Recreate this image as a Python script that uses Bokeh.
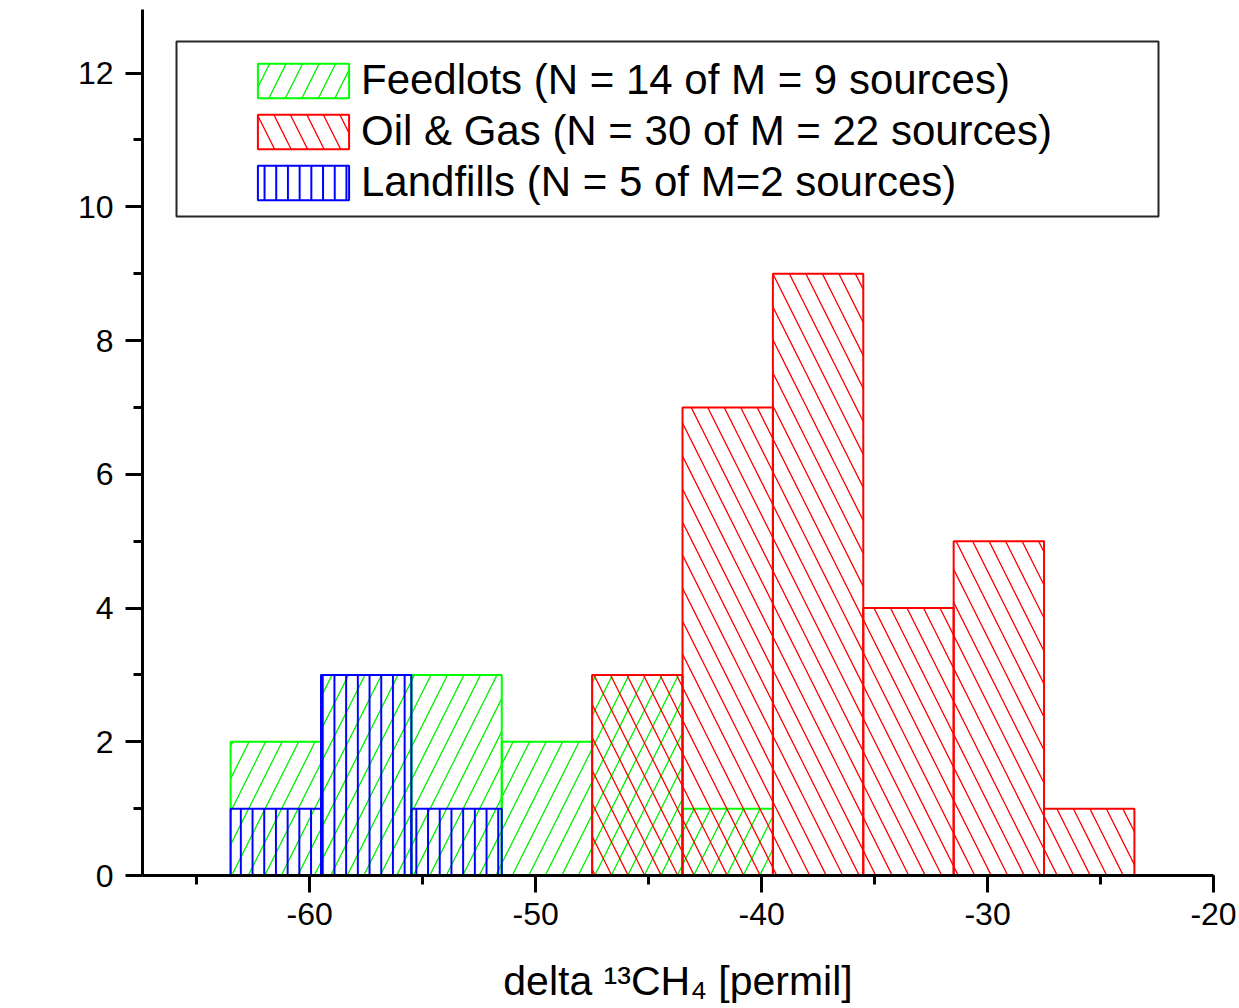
import math
from bokeh.plotting import figure
from bokeh.models import (ColumnDataSource, Legend, LegendItem, BoxAnnotation,
                          SingleIntervalTicker, Range1d, Label)
from bokeh.embed import file_html
from bokeh.resources import INLINE

# ---- data ----
bin_left = [-63.5, -59.5, -55.5, -51.5, -47.5, -43.5, -39.5, -35.5, -31.5, -27.5]
bin_right = [-59.5, -55.5, -51.5, -47.5, -43.5, -39.5, -35.5, -31.5, -27.5, -23.5]
feedlots = [2, 3, 3, 2, 3, 1, 0, 0, 0, 0]
oil_gas = [0, 0, 0, 0, 3, 7, 9, 4, 5, 1]
landfills = [1, 3, 1, 0, 0, 0, 0, 0, 0, 0]
labels = ["Feedlots (N = 14 of M = 9 sources)",
          "Oil & Gas (N = 30 of M = 22 sources)",
          "Landfills (N = 5 of M=2 sources)"]
x_ticks = [-60, -50, -40, -30, -20]
x_tick_labels = ["-60", "-50", "-40", "-30", "-20"]
y_ticks = [0, 2, 4, 6, 8, 10, 12]
y_tick_labels = ["0", "2", "4", "6", "8", "10", "12"]
x_title = "delta \u00b9\u00b3CH\u2084 [permil]"
y_title = "bin count"

FONT = "Liberation Sans"


def src(counts):
    l, r, t = [], [], []
    for a, b, c in zip(bin_left, bin_right, counts):
        if c > 0:
            l.append(a); r.append(b); t.append(c)
    return ColumnDataSource(dict(left=l, right=r, top=t, bottom=[0] * len(t)))


p = figure(width=1239, height=1008, output_backend="svg", toolbar_location=None,
           x_range=Range1d(-67.4, -20), y_range=Range1d(0, 12.95),
           min_border_left=142, min_border_right=26, min_border_top=9, min_border_bottom=133)
p.outline_line_color = None
p.xgrid.visible = False
p.ygrid.visible = False
p.background_fill_color = "white"
p.border_fill_color = "white"

r_g = p.quad(left="left", right="right", top="top", bottom="bottom", source=src(feedlots),
             fill_color=None, line_color="#00ff00", line_width=2,
             hatch_pattern="right_diagonal_line", hatch_color="#00f000",
             hatch_scale=33, hatch_weight=1.3)
r_r = p.quad(left="left", right="right", top="top", bottom="bottom", source=src(oil_gas),
             fill_color=None, line_color="#ff0000", line_width=2,
             hatch_pattern="left_diagonal_line", hatch_color="#ff0000",
             hatch_scale=33, hatch_weight=1.3)
r_b = p.quad(left="left", right="right", top="top", bottom="bottom", source=src(landfills),
             fill_color=None, line_color="#0000ff", line_width=2,
             hatch_pattern="vertical_line", hatch_color="#0000ff",
             hatch_scale=11.7, hatch_weight=2)

for ax in (p.xaxis[0], p.yaxis[0]):
    ax.axis_line_width = 3
    ax.axis_line_color = "black"
    ax.major_tick_line_width = 3
    ax.minor_tick_line_width = 3
    ax.major_tick_in = 0
    ax.minor_tick_in = 0
    ax.major_tick_out = 17
    ax.minor_tick_out = 9
    ax.major_label_text_font = FONT
    ax.major_label_text_font_size = "32px"
    ax.major_label_text_color = "black"
    ax.axis_label_text_font = FONT
    ax.axis_label_text_font_size = "41px"
    ax.axis_label_text_font_style = "normal"
    ax.axis_label_text_color = "black"

p.xaxis[0].ticker = SingleIntervalTicker(interval=10, num_minor_ticks=2)
p.yaxis[0].ticker = SingleIntervalTicker(interval=2, num_minor_ticks=2)
p.xaxis[0].major_label_overrides = {t: s for t, s in zip(x_ticks, x_tick_labels)}
p.yaxis[0].major_label_overrides = {t: s for t, s in zip(y_ticks, y_tick_labels)}
p.xaxis[0].major_label_standoff = 10
p.yaxis[0].major_label_standoff = 12
p.xaxis[0].axis_label = x_title
p.xaxis[0].axis_label_standoff = 30

# y-axis title placed as a rotated label (offset below the frame centre as in the reference)
ylab = Label(x=-97, y=405, x_units="screen", y_units="screen", text=y_title,
             angle=math.pi / 2, text_align="center", text_baseline="alphabetic",
             text_font=FONT, text_font_size="41px", text_color="black")
p.add_layout(ylab)

# legend frame
frame_box = BoxAnnotation(left=34, right=1016, top=834, bottom=659,
                          left_units="screen", right_units="screen",
                          top_units="screen", bottom_units="screen",
                          fill_alpha=0, line_color="black", line_width=2, line_alpha=0.85)
p.add_layout(frame_box)

legend = Legend(items=[LegendItem(label=labels[0], renderers=[r_g]),
                       LegendItem(label=labels[1], renderers=[r_r]),
                       LegendItem(label=labels[2], renderers=[r_b])],
                location=(104, 669), glyph_width=114, glyph_height=43,
                label_text_font=FONT, label_text_font_size="42px", label_text_color="black",
                label_standoff=1, spacing=3, padding=0, margin=0,
                border_line_alpha=0, background_fill_alpha=0)
p.add_layout(legend)

open("out.html", "w").write(file_html(p, INLINE))
